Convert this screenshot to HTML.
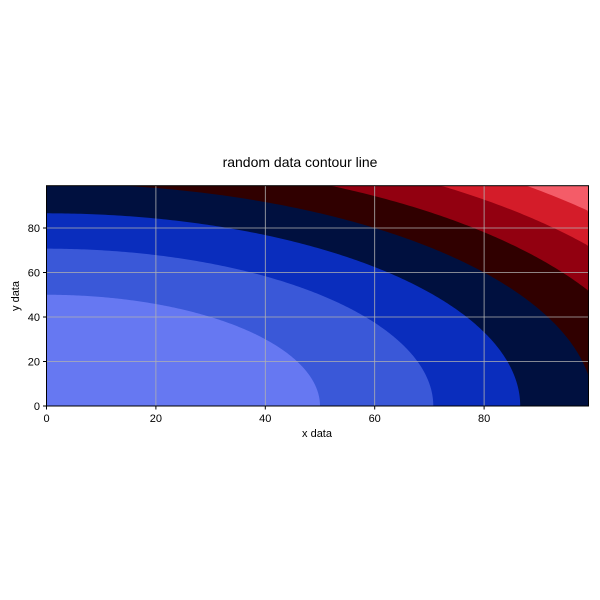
<!DOCTYPE html>
<html><head><meta charset="utf-8">
<style>
html,body{margin:0;padding:0;background:#fff;width:600px;height:600px;overflow:hidden;}
svg{display:block;font-family:"Liberation Sans","DejaVu Sans",sans-serif;}
</style></head>
<body>
<svg id="chart" width="600" height="600">
<rect width="600" height="600" fill="#fff"/>
<g id="bands"></g>
<g id="grid"></g>
<rect x="46.5" y="185.7" width="542" height="220.3" fill="none" stroke="#000" stroke-width="1"/>
<g id="ticks"></g>
<text x="300" y="167" text-anchor="middle" font-size="14">random data contour line</text>
<text x="317" y="437" text-anchor="middle" font-size="11">x data</text>
<text x="19" y="296" text-anchor="middle" font-size="11" transform="rotate(-90 19 296)">y data</text>
</svg>
<script>
const levels=[0,2500,5000,7500,10000,12500,15000,17500,20000];
const bandColors=["#6678f2","#3a58d8","#0a2dbd","#00103f","#300000","#920010","#d41c29","#f45c68"];
const xTicks=[0,20,40,60,80];
const yTicks=[0,20,40,60,80];
const XMAX=99,YMAX=99;
const X0=46.5,XS=5.47,Y0=406,YS=2.225;
const xs=v=>X0+v*XS, ys=v=>Y0-v*YS;
const NS="http://www.w3.org/2000/svg";
const bands=document.getElementById('bands');
for(let i=bandColors.length-1;i>=0;i--){
  const r=Math.sqrt(levels[i+1]);
  const pts=[[xs(0),ys(0)]];
  const N=240;
  for(let k=0;k<=N;k++){
    const a=Math.PI/2*k/N;
    const dx=Math.min(r*Math.cos(a),XMAX), dy=Math.min(r*Math.sin(a),YMAX);
    pts.push([xs(dx),ys(dy)]);
  }
  const p=document.createElementNS(NS,'polygon');
  
  
  p.setAttribute('points',pts.map(q=>q[0].toFixed(2)+','+q[1].toFixed(2)).join(' '));
  p.setAttribute('fill',bandColors[i]);
  bands.appendChild(p);
}
const grid=document.getElementById('grid'),ticks=document.getElementById('ticks');
xTicks.forEach(t=>{
  const l=document.createElementNS(NS,'line');
  
  
  l.setAttribute('x1',xs(t));l.setAttribute('x2',xs(t));l.setAttribute('y1',185.7);l.setAttribute('y2',406);
  l.setAttribute('stroke','#b0b0b0');l.setAttribute('stroke-width','0.8');grid.appendChild(l);
  const tk=document.createElementNS(NS,'line');
  
  
  tk.setAttribute('x1',xs(t));tk.setAttribute('x2',xs(t));tk.setAttribute('y1',406);tk.setAttribute('y2',409.5);
  tk.setAttribute('stroke','#000');ticks.appendChild(tk);
  const tx=document.createElementNS(NS,'text');
  
  
  tx.setAttribute('x',xs(t));tx.setAttribute('y',422);tx.setAttribute('text-anchor','middle');tx.setAttribute('font-size','11');
  tx.textContent=t;ticks.appendChild(tx);
});
yTicks.forEach(t=>{
  const l=document.createElementNS(NS,'line');
  
  
  l.setAttribute('x1',46.5);l.setAttribute('x2',588.5);l.setAttribute('y1',ys(t));l.setAttribute('y2',ys(t));
  l.setAttribute('stroke','#b0b0b0');l.setAttribute('stroke-width','0.8');grid.appendChild(l);
  const tk=document.createElementNS(NS,'line');
  
  
  tk.setAttribute('x1',43);tk.setAttribute('x2',46.5);tk.setAttribute('y1',ys(t));tk.setAttribute('y2',ys(t));
  tk.setAttribute('stroke','#000');ticks.appendChild(tk);
  const tx=document.createElementNS(NS,'text');
  
  
  tx.setAttribute('x',40);tx.setAttribute('y',ys(t)+4);tx.setAttribute('text-anchor','end');tx.setAttribute('font-size','11');
  tx.textContent=t;ticks.appendChild(tx);
});
</script>
</body></html>
